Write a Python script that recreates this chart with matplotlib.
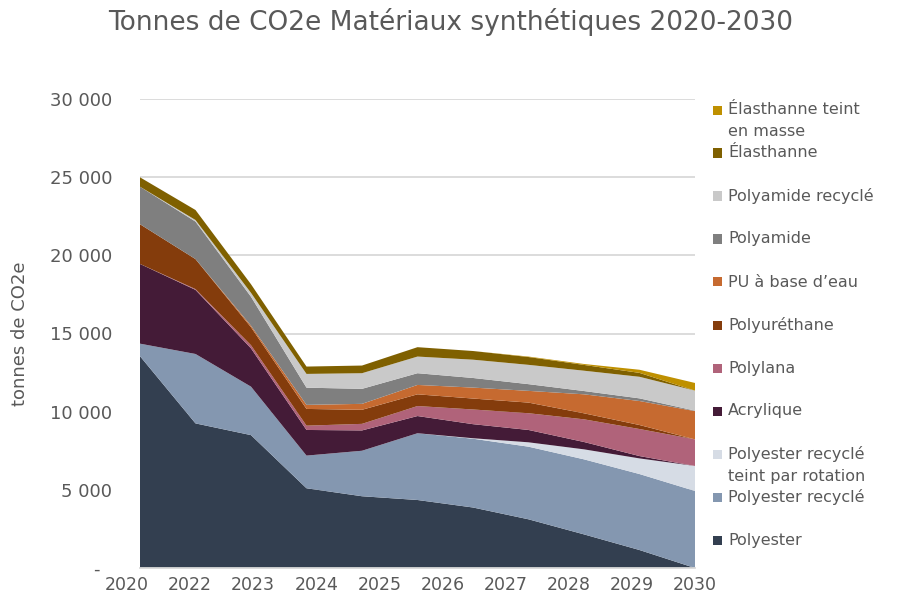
import numpy as np
import matplotlib
matplotlib.use("Agg")
import matplotlib.pyplot as plt
from matplotlib.patches import Rectangle

# ---- data ----
points = list(range(11))
tick_labels = ["2020", "2022", "2023", "2024", "2025", "2026", "2027", "2028", "2029", "2030"]

polyester = [13550, 9250, 8500, 5100, 4590, 4350, 3870, 3115, 2150, 1150, 0]
polyester_recycle = [800, 4440, 3100, 2090, 2910, 4270, 4400, 4645, 4800, 4860, 4926]
polyester_rot = [0, 0, 0, 0, 0, 0, 30, 280, 640, 1000, 1600]
acrylique = [5100, 4100, 2450, 1640, 1300, 1100, 900, 790, 470, 150, 0]
polylana = [0, 50, 200, 275, 420, 640, 940, 1070, 1450, 1730, 1700]
polyurethane = [2540, 1920, 1150, 1070, 900, 750, 700, 680, 385, 256, 0]
pu_eau = [0, 0, 100, 260, 380, 600, 700, 750, 1215, 1535, 1810]
polyamide = [2400, 2400, 1850, 1100, 960, 750, 615, 430, 210, 170, 30]
polyamide_recycle = [0, 100, 250, 880, 1000, 1065, 1170, 1235, 1300, 1380, 1280]
elasthanne = [600, 640, 550, 470, 490, 600, 555, 500, 370, 250, 0]
elasthanne_teint = [0, 0, 0, 0, 0, 0, 0, 30, 60, 200, 490]

series_names = ["Polyester", "Polyester recyclé", "Polyester recyclé\nteint par rotation",
                "Acrylique", "Polylana", "Polyuréthane", "PU à base d\u2019eau",
                "Polyamide", "Polyamide recyclé", "Élasthanne", "Élasthanne teint\nen masse"]
series_values = [polyester, polyester_recycle, polyester_rot, acrylique, polylana,
                 polyurethane, pu_eau, polyamide, polyamide_recycle, elasthanne, elasthanne_teint]
colors = ["#333F50", "#8497B0", "#D6DCE5", "#441B37", "#B0637A", "#843C0C",
          "#C66A30", "#7F7F7F", "#C9C9C9", "#7F6000", "#BF9000"]

W, H = 901, 602
fig = plt.figure(figsize=(W / 100, H / 100), dpi=100)
ax = fig.add_axes([140 / W, (H - 568) / H, (695 - 140) / W, (568 - 99) / H])

ax.stackplot(points, *series_values, colors=colors, linewidth=0)

yt = [0, 5000, 10000, 15000, 20000, 25000, 30000]
ax.set_yticks(yt)
ax.set_yticklabels(["-  "] + [f"{v:,}".replace(",", " ") for v in yt[1:]])
ax.yaxis.grid(True, color="#D9D9D9", linewidth=1.3)
ax.set_axisbelow(True)
for s in ["top", "right", "left"]:
    ax.spines[s].set_visible(False)
ax.spines["bottom"].set_color("#D9D9D9")
ax.spines["bottom"].set_linewidth(1.3)
ax.tick_params(axis="both", length=0, colors="#595959")
ax.tick_params(axis="y", labelsize=13, pad=20)
ax.set_xticks([])
ax.set_xlim(0, 10)
ax.set_ylim(0, 30000)

# category labels spread evenly below the axis
px_pos = np.linspace(127, 695, len(tick_labels))
for px, lab in zip(px_pos, tick_labels):
    fig.text(px / W, 1 - 585 / H, lab, ha="center", va="center",
             fontsize=12.5, color="#595959")

fig.text(451 / W, 1 - 22 / H, "Tonnes de CO2e Matériaux synthétiques 2020-2030",
         ha="center", va="center", fontsize=19, color="#595959")
fig.text(20 / W, 1 - 334 / H, "tonnes de CO2e", rotation=90, ha="center", va="center",
         fontsize=13, color="#595959")

# legend (top = last series)
y0, dy = 110, 43
for k, (name, col) in enumerate(zip(series_names[::-1], colors[::-1])):
    yc = y0 + dy * k
    fig.patches.append(Rectangle((713 / W, 1 - (yc + 4.5) / H), 9 / W, 9 / H,
                                 transform=fig.transFigure, facecolor=col, edgecolor="none"))
    for j, line in enumerate(name.split("\n")):
        fig.text(728 / W, 1 - (yc + 22 * j) / H, line, ha="left", va="center",
                 fontsize=11.5, color="#595959")

fig.savefig("out.png", dpi=100)
